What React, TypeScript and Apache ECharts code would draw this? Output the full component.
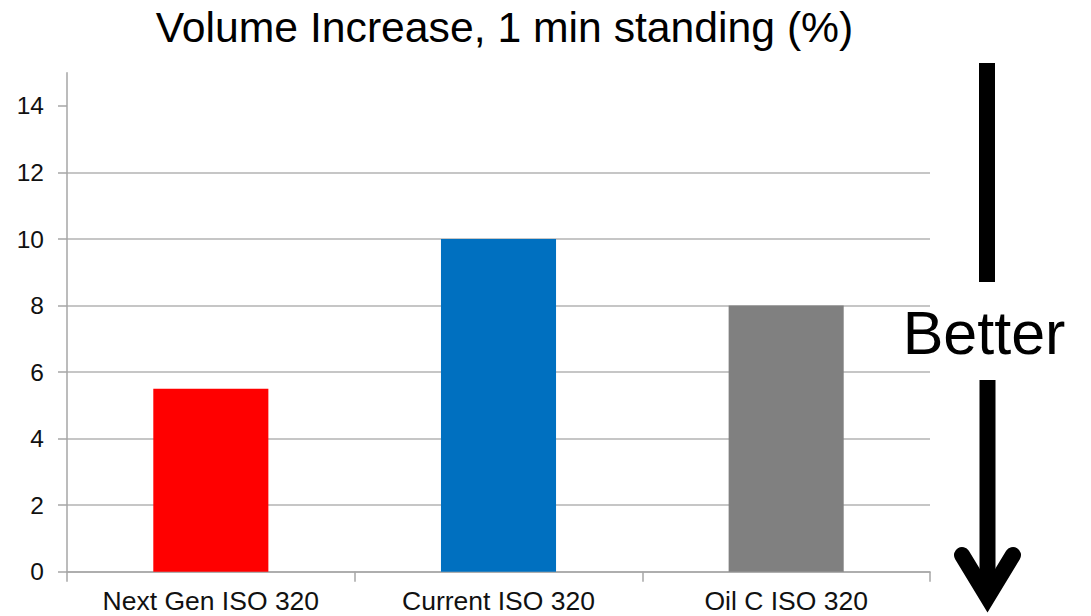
import React, { useEffect, useRef } from "react";
import * as echarts from "echarts";

const categories = ["Next Gen ISO 320", "Current ISO 320", "Oil C ISO 320"];
const values = [5.5, 10, 8];
const barColors = ["#FF0000", "#0070C0", "#808080"];
const yTicks = [0, 2, 4, 6, 8, 10, 12, 14];
const titleText = "Volume Increase, 1 min standing (%)";
const sideLabel = "Better";

const FONT = "'Liberation Sans', Arial, Helvetica, sans-serif";

export default function App() {
  const ref = useRef<HTMLDivElement>(null);
  useEffect(() => {
    if (!ref.current) return;
    const chart = echarts.init(ref.current, null, { renderer: "svg" });
    chart.setOption({
      animation: false,
      backgroundColor: "#ffffff",
      grid: { left: 67, right: 161, top: 72.7, bottom: 44.3 },
      xAxis: {
        type: "category",
        data: categories,
        axisLine: { lineStyle: { color: "#a6a6a6", width: 1.5 } },
        axisTick: { show: true, length: 10, lineStyle: { color: "#a6a6a6", width: 1.5 } },
        axisLabel: { fontFamily: FONT, fontSize: 26.5, color: "#111", margin: 16 },
        splitLine: { show: false },
      },
      yAxis: {
        type: "value",
        min: 0,
        max: 15,
        interval: 2,
        axisLine: { show: true, lineStyle: { color: "#a6a6a6", width: 1.5 } },
        axisTick: { show: true, length: 9, customValues: yTicks, lineStyle: { color: "#a6a6a6", width: 1.5 } },
        axisLabel: { fontFamily: FONT, fontSize: 24.5, color: "#111", margin: 23, customValues: yTicks },
        splitLine: { show: true, showMaxLine: false, lineStyle: { color: "#b3b3b3", width: 1.5 } },
      },
      series: [
        {
          type: "bar",
          barWidth: "40%",
          data: values.map((v, i) => ({ value: v, itemStyle: { color: barColors[i] } })),
        },
      ],
      graphic: [
        {
          type: "text",
          x: 504.5,
          y: 27,
          style: {
            text: titleText,
            fontFamily: FONT,
            fontSize: 42.7,
            fill: "#000",
            textAlign: "center",
            textVerticalAlign: "middle",
          },
        },
        {
          type: "text",
          x: 984,
          y: 333,
          style: {
            text: sideLabel,
            fontFamily: FONT,
            fontSize: 61,
            fill: "#000",
            textAlign: "center",
            textVerticalAlign: "middle",
          },
        },
        {
          type: "line",
          shape: { x1: 987, y1: 63, x2: 987, y2: 282 },
          style: { stroke: "#000", lineWidth: 16, lineCap: "butt" },
        },
        {
          type: "line",
          shape: { x1: 987.5, y1: 380, x2: 987.5, y2: 598 },
          style: { stroke: "#000", lineWidth: 16, lineCap: "butt" },
        },
        {
          type: "polyline",
          shape: { points: [[962, 555], [987.5, 597], [1013, 555]] },
          style: { stroke: "#000", fill: null, lineWidth: 16, lineCap: "round", lineJoin: "miter", miterLimit: 10 },
        },
      ],
    });
    return () => chart.dispose();
  }, []);
  return (
    <div
      ref={ref}
      style={{ position: "absolute", left: 0, top: 0, width: 1091, height: 616 }}
    />
  );
}
